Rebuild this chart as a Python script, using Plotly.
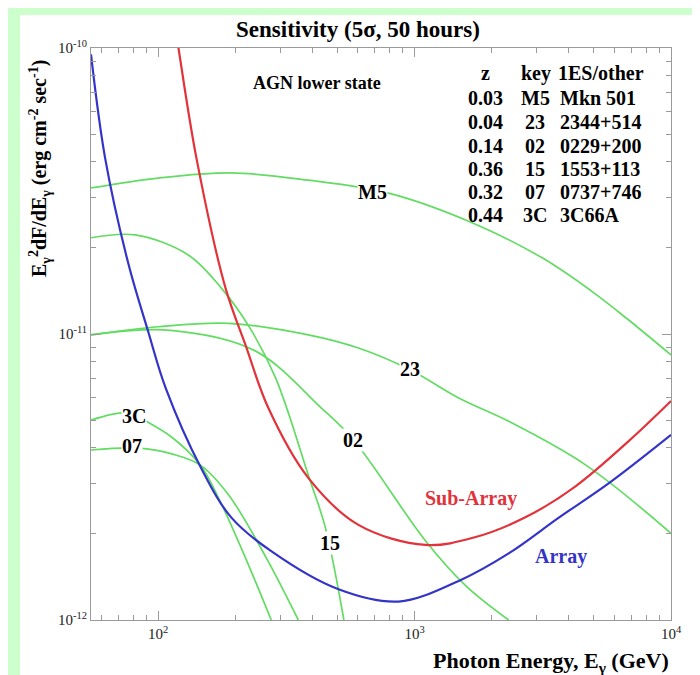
import plotly.graph_objects as go

# ---------------- data ----------------
array_E = [54.7, 62.1, 76.4, 91.4, 107, 147, 193, 276, 505, 866, 1486, 2328, 3652, 5728, 10000]
array_F = [9.5e-11, 4.12e-11, 1.77e-11, 1.02e-11, 6.47e-12, 3.40e-12, 2.28e-12, 1.74e-12,
           1.28e-12, 1.16e-12, 1.37e-12, 1.71e-12, 2.28e-12, 3.01e-12, 4.44e-12]

sub_E = [116, 120, 141, 183, 219, 269, 385, 604, 1104, 1730, 2716, 4256, 6855, 10000]
sub_F = [1.22e-10, 1.0e-10, 4.12e-11, 1.45e-11, 9.16e-12, 5.51e-12, 3.14e-12, 2.15e-12,
         1.83e-12, 1.95e-12, 2.29e-12, 2.94e-12, 4.23e-12, 5.83e-12]

m5_E = [54.7, 100, 193, 385, 791, 1625, 3133, 4911, 6668, 10000]
m5_F = [3.24e-11, 3.51e-11, 3.66e-11, 3.45e-11, 3.11e-11, 2.48e-11, 1.85e-11, 1.41e-11, 1.14e-11, 8.45e-12]

s23_E = [54.7, 100, 188, 385, 604, 964, 1486, 2328, 4656, 10000]
s23_F = [9.93e-12, 1.06e-11, 1.09e-11, 9.93e-12, 8.93e-12, 7.48e-12, 5.97e-12, 4.95e-12, 3.48e-12, 2.01e-12]

s02_E = [54.7, 112, 239, 433, 578, 1104, 1581, 2328]
s02_F = [9.93e-12, 1.03e-11, 8.73e-12, 5.51e-12, 4.26e-12, 1.89e-12, 1.32e-12, 1.0e-12]

s15_E = [54.7, 81.3, 131, 176, 225, 287, 385, 449, 530]
s15_F = [2.17e-11, 2.22e-11, 1.89e-11, 1.45e-11, 1.07e-11, 7.02e-12, 3.21e-12, 2.1e-12, 1.0e-12]

s3c_E = [54.7, 76.4, 89, 114, 146, 172, 219, 276]
s3c_F = [5.0e-12, 5.3e-12, 4.97e-12, 4.33e-12, 3.48e-12, 2.67e-12, 1.65e-12, 1.0e-12]

s07_E = [54.7, 83.5, 114, 146, 188, 264, 352]
s07_F = [3.93e-12, 3.99e-12, 3.80e-12, 3.48e-12, 2.74e-12, 1.65e-12, 1.0e-12]

table_z = ["0.03", "0.04", "0.14", "0.36", "0.32", "0.44"]
table_key = ["M5", "23", "02", "15", "07", "3C"]
table_name = ["Mkn 501", "2344+514", "0229+200", "1553+113", "0737+746", "3C66A"]

x_tick_vals = [100, 1000, 10000]
x_tick_text = ["10<sup>2</sup>", "10<sup>3</sup>", "10<sup>4</sup>"]
y_tick_vals = [1e-12, 1e-11, 1e-10]
y_tick_text = ["10<sup>-12</sup>", "10<sup>-11</sup>", "10<sup>-10</sup>"]
x_minor = [60, 70, 80, 90] + [m * 100 for m in range(2, 10)] + [m * 1000 for m in range(2, 10)]
y_minor = [m * 1e-12 for m in range(2, 10)] + [m * 1e-11 for m in range(2, 10)]

# ---------------- styling ----------------
W, H = 700, 675
L, R, T, B = 83, 663, 40, 612
FONT = "Liberation Serif, Times New Roman, Times, serif"
GREEN = "#62dc62"
RED = "#e2333a"
BLUE = "#3434c8"


def px(x):
    return (x - L) / (R - L)


def py(y):
    return 1 - (y - T) / (B - T)


fig = go.Figure()

for E, F in [(m5_E, m5_F), (s23_E, s23_F), (s02_E, s02_F), (s15_E, s15_F),
             (s3c_E, s3c_F), (s07_E, s07_F)]:
    fig.add_trace(go.Scatter(x=E, y=F, mode="lines",
                             line=dict(color=GREEN, width=1.7, shape="spline", smoothing=1.0),
                             hoverinfo="skip", showlegend=False))

fig.add_trace(go.Scatter(x=sub_E, y=sub_F, mode="lines",
                         line=dict(color=RED, width=2.2, shape="spline", smoothing=1.0),
                         showlegend=False))
fig.add_trace(go.Scatter(x=array_E, y=array_F, mode="lines",
                         line=dict(color=BLUE, width=2.2, shape="spline", smoothing=1.0),
                         showlegend=False))

annotations = []


def label(text, x, y, size=17, color="black", bg="white", xanchor="center"):
    annotations.append(dict(text="<b>" + text + "</b>", x=px(x), y=py(y), xref="paper", yref="paper",
                            showarrow=False, xanchor=xanchor, yanchor="middle",
                            font=dict(family=FONT, size=size, color=color),
                            bgcolor=bg, borderpad=0))


# curve keys
KS = 20
label(table_key[0], 364, 184, size=KS)
label(table_key[1], 402, 361, size=KS)
label(table_key[2], 345, 432, size=KS)
label(table_key[3], 322, 535, size=KS)
label(table_key[5], 126, 408, size=KS)
label(table_key[4], 124, 438, size=KS)
label("Sub-Array", 463, 490, size=20, color=RED, bg=None)
label("Array", 553, 548, size=20, color=BLUE, bg=None)
label("AGN lower state", 309, 75, size=18, bg=None)

# table
TS = 20
label("z", 477, 65, size=TS, bg=None)
label("key", 528, 65, size=TS, bg=None)
label("1ES/other", 549, 65, size=TS, bg=None, xanchor="left")
row_y = [90, 114, 138, 161, 184, 207]
for i in range(len(table_z)):
    label(table_z[i], 477, row_y[i], size=TS, bg=None)
    label(table_key[i], 527, row_y[i], size=TS, bg=None)
    label(table_name[i], 551, row_y[i], size=TS, bg=None, xanchor="left")

# title and axis titles
annotations.append(dict(text="<b>Sensitivity (5σ, 50 hours)</b>", x=px(350), y=py(21),
                        xref="paper", yref="paper", showarrow=False, xanchor="center",
                        yanchor="middle", font=dict(family=FONT, size=23, color="black")))
annotations.append(dict(text="<b>Photon Energy, E<sub>γ</sub> (GeV)</b>", x=px(663), y=py(654),
                        xref="paper", yref="paper", showarrow=False, xanchor="right",
                        yanchor="middle", font=dict(family=FONT, size=22, color="black")))
annotations.append(dict(text="<b>E<sub>γ</sub><sup>2</sup>dF/dE<sub>γ</sub> (erg cm<sup>-2</sup> sec<sup>-1</sup>)</b>",
                        x=px(32), y=py(161), xref="paper", yref="paper", showarrow=False,
                        xanchor="center", yanchor="middle", textangle=-90,
                        font=dict(family=FONT, size=20, color="black")))

axis_common = dict(type="log", showgrid=False, zeroline=False, showline=True,
                   linecolor="#9a9a9a", linewidth=1, mirror="allticks",
                   ticks="inside", ticklen=9, tickcolor="#9a9a9a", tickwidth=1,
                   tickfont=dict(family=FONT, size=15, color="#222"))

fig.update_xaxes(**axis_common, range=[1.738, 4.0], tickmode="array",
                 tickvals=x_tick_vals, ticktext=x_tick_text,
                 minor=dict(tickmode="array", tickvals=x_minor, ticks="inside", ticklen=5,
                            tickcolor="#9a9a9a", showgrid=False))
fig.update_yaxes(**axis_common, range=[-12, -10], tickmode="array",
                 tickvals=y_tick_vals, ticktext=y_tick_text,
                 minor=dict(tickmode="array", tickvals=y_minor, ticks="inside", ticklen=5,
                            tickcolor="#9a9a9a", showgrid=False))

fig.update_layout(
    width=W, height=H,
    margin=dict(l=L, r=W - R, t=T, b=H - B, autoexpand=False),
    paper_bgcolor="#ccffcc", plot_bgcolor="white",
    annotations=annotations,
    shapes=[dict(type="rect", xref="paper", yref="paper", layer="below",
                 x0=px(12), x1=px(720), y0=py(700), y1=py(7),
                 fillcolor="white", line=dict(width=0))],
    showlegend=False,
)

fig.write_html("out.html")
